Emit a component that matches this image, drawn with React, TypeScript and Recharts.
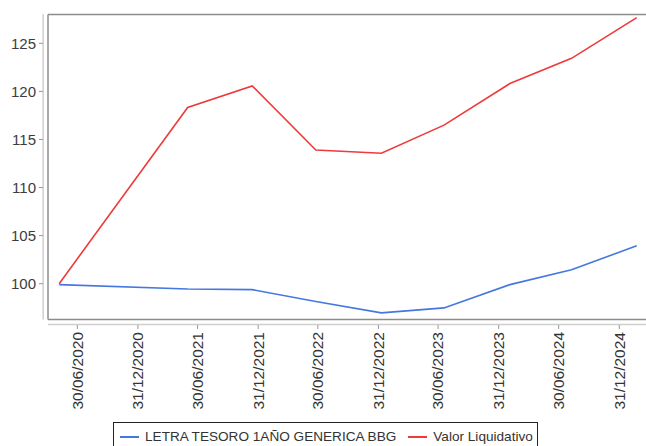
import React from 'react';
import { LineChart, Line, XAxis, YAxis, ReferenceLine, Legend } from 'recharts';

const DAY = 86400000;
const d = (y: number, m: number, day: number) => Date.UTC(y, m - 1, day);

// data
const pointDates = [
  d(2020, 5, 6), d(2021, 5, 31), d(2021, 12, 13), d(2022, 6, 24), d(2023, 1, 9),
  d(2023, 7, 18), d(2024, 2, 3), d(2024, 8, 8), d(2025, 2, 22),
];
const letraValues = [99.9, 99.45, 99.38, 98.15, 96.96, 97.48, 99.9, 101.45, 103.94];
const valorValues = [100, 118.33, 120.57, 113.9, 113.56, 116.49, 120.82, 123.44, 127.67];
const tickDates = [
  d(2020, 6, 30), d(2020, 12, 31), d(2021, 6, 30), d(2021, 12, 31), d(2022, 6, 30),
  d(2022, 12, 31), d(2023, 6, 30), d(2023, 12, 31), d(2024, 6, 30), d(2024, 12, 31),
];
const yTicks = [100, 105, 110, 115, 120, 125];
const seriesNames = ['LETRA TESORO 1AÑO GENERICA BBG', 'Valor Liquidativo'];

const data = pointDates.map((t, i) => ({ t, letra: letraValues[i], valor: valorValues[i] }));

const origin = d(2020, 6, 30);
const xMin = origin - 104.1 * DAY;
const xMax = origin + 1726.1 * DAY;
const frameLeft = origin - 88.9 * DAY;
const yMin = 95.7;
const yMax = 128.05;
const frameTop = 128.0;
const frameBottom = 96.27;
const xAxisY = 95.74;

const FONT = '"Liberation Sans", Arial, sans-serif';

const pad = (n: number) => (n < 10 ? '0' + n : '' + n);
const fmt = (v: number) => {
  const dt = new Date(v);
  return `${pad(dt.getUTCDate())}/${pad(dt.getUTCMonth() + 1)}/${dt.getUTCFullYear()}`;
};

const XTick = (props: any) => {
  const { x, y, payload } = props;
  return (
    <text
      x={x}
      y={y}
      transform={`rotate(-90, ${x}, ${y})`}
      textAnchor="end"
      dx={-3}
      dy="0.35em"
      fill="#333"
      fontSize={15.5}
      fontFamily={FONT}
    >
      {fmt(payload.value)}
    </text>
  );
};

const LegendBox = (props: any) => {
  const items = props.payload || [];
  return (
    <div
      style={{
        display: 'inline-flex',
        alignItems: 'center',
        border: '1px solid #222',
        height: 29,
        boxSizing: 'border-box',
        padding: '0 4px 0 6px',
        background: '#fff',
        fontFamily: FONT,
        fontSize: 13.6,
        color: '#333',
        whiteSpace: 'nowrap',
      }}
    >
      {items.map((it: any, i: number) => (
        <span key={i} style={{ display: 'inline-flex', alignItems: 'center', marginRight: i === 0 ? 12 : 0 }}>
          <span style={{ display: 'inline-block', width: 19, height: 2, background: it.color, marginRight: 6 }} />
          <span>{it.value}</span>
        </span>
      ))}
    </div>
  );
};

export default function App() {
  return (
    <div style={{ position: 'absolute', left: 0, top: 0, width: 646, height: 446, background: '#fff', overflow: 'hidden' }}>
      <LineChart width={646} height={446} data={data} margin={{ top: 14, right: 0, bottom: 31, left: 0 }}>
        <XAxis
          dataKey="t"
          type="number"
          domain={[xMin, xMax]}
          ticks={tickDates}
          allowDataOverflow
          height={90}
          axisLine={false}
          tickLine={{ stroke: '#999' }}
          tickSize={4}
          tickMargin={0}
          tick={<XTick />}
          interval={0}
        />
        <YAxis
          type="number"
          domain={[yMin, yMax]}
          ticks={yTicks}
          allowDataOverflow
          width={43}
          axisLine={false}
          tickLine={{ stroke: '#999' }}
          tickSize={4}
          tickMargin={3}
          tick={{ fill: '#3c3c3c', fontSize: 15, fontFamily: FONT }}
        />
        {/* axis lines */}
        <ReferenceLine segment={[{ x: xMin + 0.5 * DAY, y: yMax }, { x: xMin + 0.5 * DAY, y: frameBottom }]} stroke="#cfcfcf" strokeWidth={1.5} ifOverflow="visible" />
        <ReferenceLine segment={[{ x: frameLeft, y: xAxisY }, { x: xMax, y: xAxisY }]} stroke="#cfcfcf" strokeWidth={1.5} ifOverflow="visible" />
        {/* frame */}
        <ReferenceLine segment={[{ x: frameLeft, y: frameTop }, { x: xMax, y: frameTop }]} stroke="#8c8c8c" strokeWidth={1.5} ifOverflow="visible" />
        <ReferenceLine segment={[{ x: frameLeft, y: frameTop }, { x: frameLeft, y: frameBottom }]} stroke="#8c8c8c" strokeWidth={1.5} ifOverflow="visible" />
        <ReferenceLine segment={[{ x: frameLeft, y: frameBottom }, { x: xMax, y: frameBottom }]} stroke="#8c8c8c" strokeWidth={1.5} ifOverflow="visible" />
        <Line type="linear" dataKey="letra" name={seriesNames[0]} stroke="#4478e0" strokeWidth={1.6} dot={false} isAnimationActive={false} />
        <Line type="linear" dataKey="valor" name={seriesNames[1]} stroke="#ee3a3a" strokeWidth={1.6} dot={false} isAnimationActive={false} />
        <Legend
          layout="horizontal"
          verticalAlign="middle"
          align="center"
          content={<LegendBox />}
          wrapperStyle={{ left: 113, top: 422, width: 'auto', height: 29 }}
        />
      </LineChart>
    </div>
  );
}
